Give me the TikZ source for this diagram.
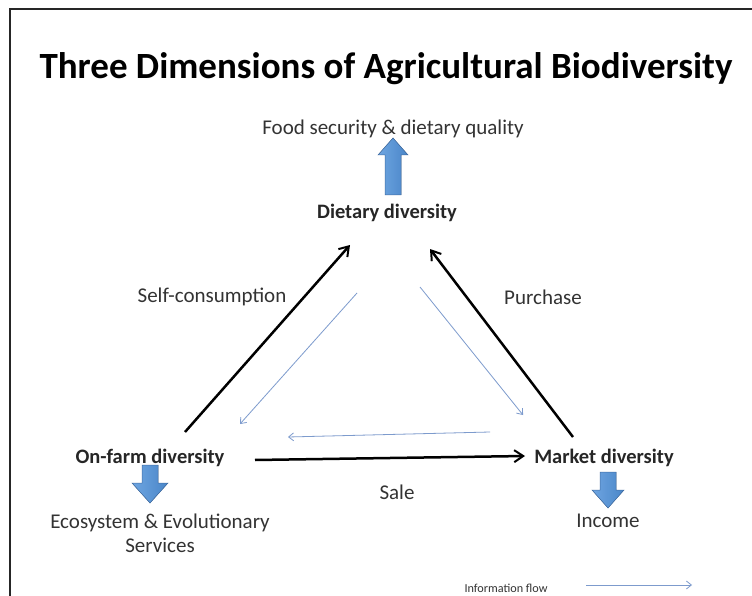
\documentclass[tikz,border=0pt]{standalone}
\usepackage{fontspec}
\setmainfont{Carlito}
\usetikzlibrary{arrows.meta}
\definecolor{fatblue}{RGB}{74,134,200}
\definecolor{fatlight}{RGB}{110,165,225}
\definecolor{fatedge}{RGB}{65,110,165}
\definecolor{thinblue}{RGB}{125,155,205}
\tikzset{
  lbl/.style={font=\fontsize{21}{24}\selectfont, text=black!80, inner sep=0pt},
  boldlbl/.style={font=\fontsize{20.5}{24}\selectfont\bfseries, text=black!85, inner sep=0pt},
  fatfill/.style={draw=fatedge, line width=0.5pt, left color=fatlight, right color=fatblue},
  blackflow/.style={-{Straight Barb[length=9pt,width=12pt,line width=2pt]}, line width=2.5pt, black},
  infoflow/.style={-{Straight Barb[length=5pt,width=8pt]}, line width=0.8pt, thinblue},
}
\begin{document}
\begin{tikzpicture}[x=1pt,y=-1pt]
\useasboundingbox (0,0) rectangle (752,596);
\fill[white] (0,0) rectangle (752,596);
\draw[line width=2pt, black!85] (10,597) -- (10,9) -- (752,9);

\node[font=\fontsize{37}{42}\selectfont\bfseries, inner sep=0pt] (title) at (386,69) {Three Dimensions of Agricultural Biodiversity};

\node[lbl] (food) at (393,129) {Food security \& dietary quality};
\node[boldlbl] (diet) at (387,213) {Dietary diversity};
\node[boldlbl] (farm) at (150,458) {On-farm diversity};
\node[boldlbl] (market) at (604,458) {Market diversity};
\node[lbl] (self) at (212,297) {Self-consumption};
\node[lbl] (purchase) at (543,297) {Purchase};
\node[lbl] (sale) at (397,492) {Sale};
\node[lbl, align=center] (eco) at (160,533) {Ecosystem \& Evolutionary\\Services};
\node[lbl] (income) at (608,521) {Income};

% fat arrows
\coordinate (up) at (393,167);
\fill[fatfill] (385,195) -- (385,155) -- (378,155) -- (393,138) -- (408,155) -- (401,155) -- (401,195) -- cycle;
\coordinate (down1) at (150,484);
\fill[fatfill] (142,465) -- (142,483) -- (132,483) -- (150,503) -- (168,483) -- (158,483) -- (158,465) -- cycle;
\coordinate (down2) at (608,490);
\fill[fatfill] (600,472) -- (600,490) -- (592,490) -- (608,508) -- (624,490) -- (616,490) -- (616,472) -- cycle;

% black arrows
\coordinate (bl1) at (185,432);
\coordinate (bl1e) at (350,245);
\coordinate (br1) at (573,437);
\coordinate (br1e) at (430,249);
\coordinate (bh1) at (255,460);
\coordinate (bh1e) at (525,456);
\draw[blackflow] (bl1) -- (bl1e);
\draw[blackflow] (br1) -- (br1e);
\draw[blackflow] (bh1) -- (bh1e);

% information flows
\coordinate (i1) at (357,293);
\coordinate (i1e) at (240,424);
\coordinate (i2) at (420,287);
\coordinate (i2e) at (523,415);
\coordinate (i3) at (490,432);
\coordinate (i3e) at (288,437);
\draw[infoflow] (i1) -- (i1e);
\draw[infoflow] (i2) -- (i2e);
\draw[infoflow] (i3) -- (i3e);

\node[font=\fontsize{12.2}{14}\selectfont, text=black!80, inner sep=0pt] (info) at (506,588) {Information flow};
\coordinate (l1) at (586,585);
\coordinate (l1e) at (692,585);
\draw[infoflow] (l1) -- (l1e);
\end{tikzpicture}
\end{document}
